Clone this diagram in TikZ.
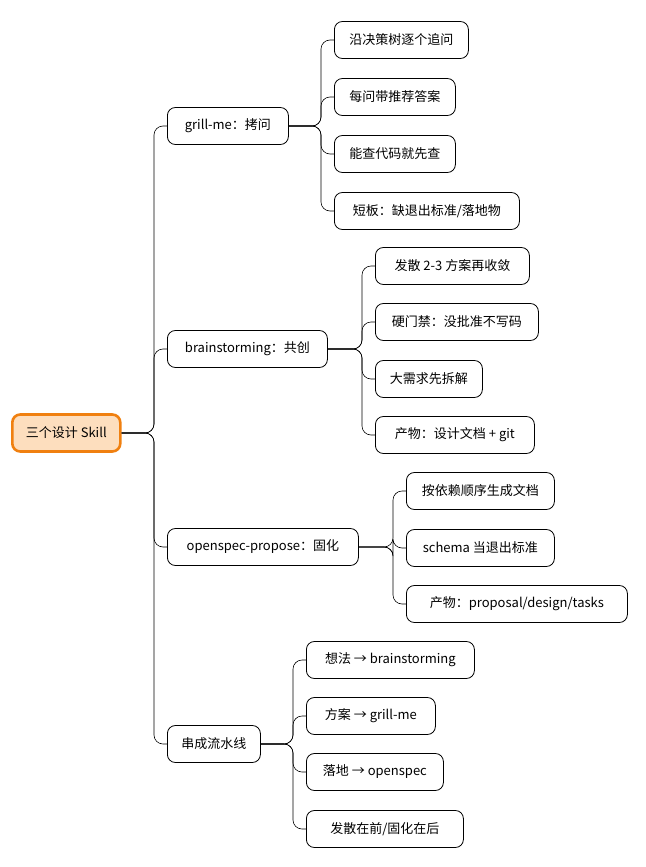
\documentclass[tikz,border=0pt]{standalone}
\usepackage{fontspec}
\setmainfont{Noto Sans CJK SC}
\begin{document}
\begin{tikzpicture}[x=1pt,y=-1pt,
  box/.style={draw=black,line width=0.8pt,fill=white,rounded corners=8pt,minimum height=37pt,inner xsep=4pt,anchor=west,font=\fontsize{13}{15}\selectfont},
  root/.style={box,draw={rgb,255:red,240;green,128;blue,16},line width=2.6pt,fill={rgb,255:red,253;green,222;blue,190}},
  ln/.style={draw=black,line width=0.6pt,rounded corners=9pt}]
\useasboundingbox (0,0) rectangle (645,867);
\node[root,minimum width=108pt] (r) at (11,433) {三个设计 Skill};
\node[box,minimum width=121pt] (a) at (167,126) {grill-me：拷问};
\node[box,minimum width=160pt] (b) at (167,349) {brainstorming：共创};
\node[box,minimum width=191pt] (c) at (167,547) {openspec-propose：固化};
\node[box,minimum width=93pt] (d) at (167,744) {串成流水线};
\node[box,minimum width=134pt] (a1) at (334,40) {沿决策树逐个追问};
\node[box,minimum width=121pt] (a2) at (334,97) {每问带推荐答案};
\node[box,minimum width=121pt] (a3) at (334,154) {能查代码就先查};
\node[box,minimum width=185pt] (a4) at (334,211) {短板：缺退出标准/落地物};
\node[box,minimum width=154pt] (b1) at (375,266) {发散 2-3 方案再收敛};
\node[box,minimum width=163pt] (b2) at (375,322) {硬门禁：没批准不写码};
\node[box,minimum width=107pt] (b3) at (375,379) {大需求先拆解};
\node[box,minimum width=159pt] (b4) at (375,435) {产物：设计文档 + git};
\node[box,minimum width=148pt] (c1) at (406,491) {按依赖顺序生成文档};
\node[box,minimum width=148pt] (c2) at (406,548) {schema 当退出标准};
\node[box,minimum width=221pt] (c3) at (406,604) {产物：proposal/design/tasks};
\node[box,minimum width=168pt] (d1) at (306,660) {想法 → brainstorming};
\node[box,minimum width=129pt] (d2) at (306,716) {方案 → grill-me};
\node[box,minimum width=137pt] (d3) at (306,772) {落地 → openspec};
\node[box,minimum width=157pt] (d4) at (306,829) {发散在前/固化在后};
\foreach \p/\c in {r/a,r/b,r/c,r/d,a/a1,a/a2,a/a3,a/a4,b/b1,b/b2,b/b3,b/b4,c/c1,c/c2,c/c3,d/d1,d/d2,d/d3,d/d4}{
  \path (\c.west) ++(-13,0) coordinate (m);
  \draw[ln] (\p.east) -- (m |- \p.east) -- (m) -- (\c.west);
}
\end{tikzpicture}
\end{document}
